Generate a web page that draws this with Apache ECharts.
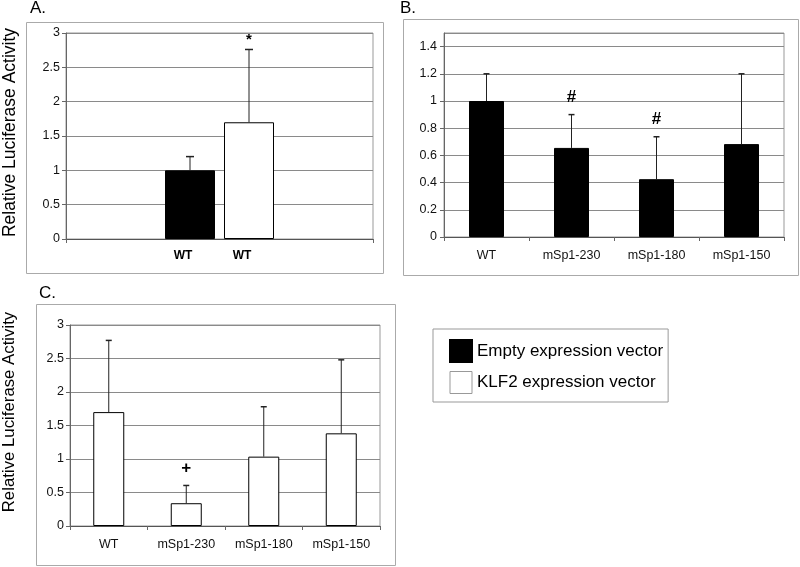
<!DOCTYPE html>
<html>
<head>
<meta charset="utf-8">
<script src="https://cdn.jsdelivr.net/npm/echarts@6/dist/echarts.min.js"></script>
<style>html,body{margin:0;padding:0;background:#fff}#c{width:800px;height:567px}</style>
</head>
<body>
<div id="c"></div>
<script>
// ---- data ----
var seriesNames = ['Empty expression vector', 'KLF2 expression vector'];
var catsA = ['WT'];
var aEmpty = [1.0];
var aEmptyErr = [0.2];
var aKlf2 = [1.70];
var aKlf2Err = [1.06];
var aMarksEmpty = [''];
var aMarksKlf2 = ['*'];

var catsB = ['WT', 'mSp1-230', 'mSp1-180', 'mSp1-150'];
var bValues = [1.0, 0.655, 0.425, 0.683];
var bErr = [0.2, 0.245, 0.312, 0.517];
var bMarks = ['', '#', '#', ''];

var catsC = ['WT', 'mSp1-230', 'mSp1-180', 'mSp1-150'];
var cValues = [1.70, 0.34, 1.035, 1.383];
var cErr = [1.07, 0.265, 0.745, 1.097];
var cMarks = ['', '+', '', ''];

var yTicksA = [0, 3, 0.5];
var yTicksB = [0, 1.5, 0.2];
var yTicksC = [0, 3, 0.5];

var yTitle = 'Relative Luciferase Activity';

// ---- chart ----
var FONT = 'Arial, "Liberation Sans", sans-serif';
var chart = echarts.init(document.getElementById('c'), null, {renderer: 'canvas'});

function errSeries(xi, values, errs, marks, offset, capW, markGap, markSize) {
  return {
    type: 'custom', xAxisIndex: xi, yAxisIndex: xi, z: 5, silent: true,
    data: values.map(function (v, i) { return [i, v, v + errs[i], marks[i]]; }),
    encode: {x: 0, y: [1, 2]},
    renderItem: function (params, api) {
      var i = api.value(0);
      var b = api.coord([i, api.value(1)]);
      var t = api.coord([i, api.value(2)]);
      var x = b[0] + offset;
      var st = {stroke: '#222', lineWidth: 1};
      var ch = [
        {type: 'line', shape: {x1: x, y1: b[1], x2: x, y2: t[1]}, style: st},
        {type: 'line', shape: {x1: x - capW / 2, y1: t[1], x2: x + capW / 2, y2: t[1]}, style: {stroke: '#222', lineWidth: 1.5}}
      ];
      var m = marks[i];
      if (m) {
        ch.push({type: 'text', style: {text: m, x: x, y: t[1] - markGap, align: 'center', verticalAlign: 'middle',
          font: 'bold ' + markSize + 'px ' + FONT, fill: '#000'}});
      }
      return {type: 'group', children: ch};
    }
  };
}

function yAxis(gi, t, opts) {
  var o = {
    type: 'value', gridIndex: gi, min: t[0], max: t[1], interval: t[2],
    axisLine: {show: true, lineStyle: {color: '#666'}},
    axisTick: {show: true, length: 4, lineStyle: {color: '#666'}},
    axisLabel: {color: '#111', fontSize: 12.5, fontFamily: FONT, margin: 6},
    splitLine: {show: true, lineStyle: {color: '#8a8a8a', width: 1}}
  };
  for (var k in opts) o[k] = opts[k];
  return o;
}

function xAxis(gi, cats, showLabel) {
  return {
    type: 'category', gridIndex: gi, data: cats,
    axisLine: {show: true, lineStyle: {color: '#555'}},
    axisTick: {show: true, length: 4, alignWithLabel: false, lineStyle: {color: '#666'}},
    axisLabel: {show: showLabel, color: '#111', fontSize: 12.5, fontFamily: FONT, margin: 12},
    splitLine: {show: false}
  };
}

var gridStyle = {show: true, borderColor: '#999', borderWidth: 1, backgroundColor: 'transparent'};

var option = {
  animation: false,
  backgroundColor: '#fff',
  textStyle: {fontFamily: FONT},
  grid: [
    Object.assign({left: 65, right: 427, top: 33, bottom: 328}, gridStyle),
    Object.assign({left: 444, right: 16, top: 33, bottom: 330}, gridStyle),
    Object.assign({left: 70, right: 420, top: 325, bottom: 41}, gridStyle)
  ],
  xAxis: [xAxis(0, catsA, false), xAxis(1, catsB, true), xAxis(2, catsC, true)],
  yAxis: [
    yAxis(0, yTicksA, {name: yTitle, nameLocation: 'middle', nameRotate: 90, nameGap: 47,
      nameTextStyle: {fontSize: 17.5, color: '#000', fontFamily: FONT, padding: [0, 0, 0, 7]}}),
    yAxis(1, yTicksB, {axisLabel: {color: '#111', fontSize: 12.5, fontFamily: FONT, margin: 7, showMaxLabel: false}}),
    yAxis(2, yTicksC, {name: yTitle, nameLocation: 'middle', nameRotate: 90, nameGap: 52,
      nameTextStyle: {fontSize: 16.8, color: '#000', fontFamily: FONT, padding: [0, 0, 0, 27]}})
  ],
  legend: {
    data: [
      {name: seriesNames[0], itemStyle: {color: '#000', borderColor: '#000'}},
      {name: seriesNames[1], itemStyle: {color: '#fff', borderColor: '#999', borderWidth: 1}}
    ],
    orient: 'vertical', left: 433, top: 329, icon: 'rect',
    itemWidth: 22, itemHeight: 22, itemGap: 8,
    padding: [10, 5, 8, 16],
    borderColor: '#999', borderWidth: 1,
    textStyle: {fontSize: 17, color: '#000', fontFamily: FONT},
    selectedMode: false
  },
  graphic: [
    {type: 'rect', shape: {x: 26.5, y: 22.5, width: 357, height: 251}, style: {fill: 'none', stroke: '#aaa', lineWidth: 1}, silent: true},
    {type: 'rect', shape: {x: 403.5, y: 19.5, width: 395, height: 256}, style: {fill: 'none', stroke: '#aaa', lineWidth: 1}, silent: true},
    {type: 'rect', shape: {x: 36.5, y: 304.5, width: 359, height: 261}, style: {fill: 'none', stroke: '#aaa', lineWidth: 1}, silent: true},
    {type: 'text', left: 30, top: 0, style: {text: 'A.', font: '17px ' + FONT, fill: '#000'}},
    {type: 'text', left: 400, top: 0, style: {text: 'B.', font: '17px ' + FONT, fill: '#000'}},
    {type: 'text', left: 39, top: 285, style: {text: 'C.', font: '17px ' + FONT, fill: '#000'}}
  ],
  series: [
    {type: 'bar', name: seriesNames[0], xAxisIndex: 0, yAxisIndex: 0, data: aEmpty, barWidth: 50, barGap: '18%',
      itemStyle: {color: '#000', borderColor: '#000', borderWidth: 1},
      label: {show: true, position: 'bottom', distance: 11, offset: [-7, 0], formatter: '{b}', fontWeight: 'bold', fontSize: 12, color: '#000', fontFamily: FONT}},
    {type: 'bar', name: seriesNames[1], xAxisIndex: 0, yAxisIndex: 0, data: aKlf2, barWidth: 50, barGap: '18%',
      itemStyle: {color: '#fff', borderColor: '#000', borderWidth: 1},
      label: {show: true, position: 'bottom', distance: 11, offset: [-7, 0], formatter: '{b}', fontWeight: 'bold', fontSize: 12, color: '#000', fontFamily: FONT}},
    {type: 'bar', name: seriesNames[0], xAxisIndex: 1, yAxisIndex: 1, data: bValues, barWidth: 35,
      itemStyle: {color: '#000', borderColor: '#000', borderWidth: 1}},
    {type: 'bar', name: seriesNames[1], xAxisIndex: 2, yAxisIndex: 2, data: cValues, barWidth: 31,
      itemStyle: {color: '#fff', borderColor: '#000', borderWidth: 1}},
    errSeries(0, aEmpty, aEmptyErr, aMarksEmpty, -29.5, 8, 10, 15),
    errSeries(0, aKlf2, aKlf2Err, aMarksKlf2, 29.5, 8, 10, 15),
    errSeries(1, bValues, bErr, bMarks, 0, 6, 17, 17),
    errSeries(2, cValues, cErr, cMarks, 0, 6, 17, 17)
  ]
};
chart.setOption(option);
</script>
</body>
</html>
